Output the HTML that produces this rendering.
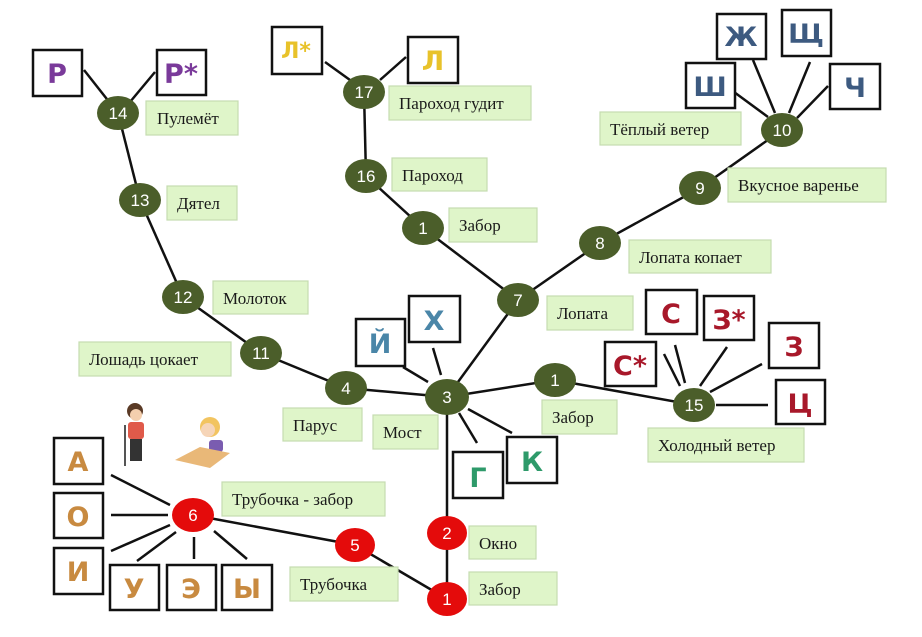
<!DOCTYPE html>
<html><head><meta charset="utf-8"><style>
html,body{margin:0;padding:0;background:#fff;}
svg{display:block}
.lb{fill:#dff5c9;stroke:#c5dcb0;stroke-width:1.2}
.lt{font-family:"Liberation Serif",serif;font-size:17px;fill:#1a1a1a}
.lx{fill:#fff;stroke:#111;stroke-width:2.5}
.L{font-family:"DejaVu Sans","Liberation Sans",sans-serif;font-size:27px;font-weight:bold;text-anchor:middle}
.n{fill:#4b5e2a}
.r{fill:#e40b0b}
.nt{font-family:"Liberation Sans",sans-serif;font-size:17px;fill:#fff;text-anchor:middle}
line{stroke:#111;stroke-width:2.5}
</style></head><body>
<svg width="922" height="637" viewBox="0 0 922 637">
<g>
<!-- main tree -->
<line x1="118" y1="113" x2="140" y2="200"/>
<line x1="140" y1="200" x2="183" y2="297"/>
<line x1="183" y1="297" x2="261" y2="353"/>
<line x1="261" y1="353" x2="346" y2="388"/>
<line x1="346" y1="388" x2="447" y2="397"/>
<line x1="447" y1="397" x2="518" y2="300"/>
<line x1="518" y1="300" x2="423" y2="228"/>
<line x1="423" y1="228" x2="366" y2="176"/>
<line x1="366" y1="176" x2="364" y2="92"/>
<line x1="518" y1="300" x2="600" y2="243"/>
<line x1="600" y1="243" x2="700" y2="188"/>
<line x1="700" y1="188" x2="782" y2="130"/>
<line x1="447" y1="397" x2="555" y2="380"/>
<line x1="555" y1="380" x2="694" y2="405"/>
<line x1="447" y1="397" x2="447" y2="533"/>
<line x1="447" y1="533" x2="447" y2="599"/>
<line x1="447" y1="599" x2="355" y2="545"/>
<line x1="355" y1="545" x2="193" y2="515"/>
<!-- letter spokes -->
<line x1="84" y1="70" x2="110" y2="103"/>
<line x1="155" y1="72" x2="130" y2="102"/>
<line x1="325" y1="62" x2="350" y2="80"/>
<line x1="406" y1="57" x2="380" y2="80"/>
<line x1="753" y1="60" x2="775" y2="113"/>
<line x1="810" y1="62" x2="789" y2="113"/>
<line x1="734" y1="92" x2="768" y2="117"/>
<line x1="828" y1="86" x2="797" y2="118"/>
<line x1="403" y1="367" x2="428" y2="382"/>
<line x1="433" y1="348" x2="441" y2="375"/>
<line x1="459" y1="413" x2="477" y2="443"/>
<line x1="468" y1="409" x2="512" y2="433"/>
<line x1="664" y1="354" x2="680" y2="386"/>
<line x1="675" y1="345" x2="685" y2="383"/>
<line x1="727" y1="347" x2="700" y2="386"/>
<line x1="762" y1="364" x2="710" y2="392"/>
<line x1="716" y1="405" x2="768" y2="405"/>
<line x1="111" y1="475" x2="170" y2="505"/>
<line x1="111" y1="515" x2="168" y2="515"/>
<line x1="111" y1="551" x2="170" y2="525"/>
<line x1="137" y1="561" x2="176" y2="532"/>
<line x1="194" y1="559" x2="194" y2="537"/>
<line x1="247" y1="559" x2="214" y2="531"/>
</g>
<!-- labels -->
<g>
<rect class="lb" x="146" y="101" width="92" height="34"/><text class="lt" x="157" y="124">Пулемёт</text>
<rect class="lb" x="167" y="186" width="70" height="34"/><text class="lt" x="177" y="209">Дятел</text>
<rect class="lb" x="213" y="281" width="95" height="33"/><text class="lt" x="223" y="304">Молоток</text>
<rect class="lb" x="79" y="342" width="152" height="34"/><text class="lt" x="89" y="365">Лошадь цокает</text>
<rect class="lb" x="283" y="408" width="79" height="33"/><text class="lt" x="293" y="431">Парус</text>
<rect class="lb" x="373" y="415" width="65" height="34"/><text class="lt" x="383" y="438">Мост</text>
<rect class="lb" x="389" y="86" width="142" height="34"/><text class="lt" x="399" y="109">Пароход гудит</text>
<rect class="lb" x="392" y="158" width="95" height="33"/><text class="lt" x="402" y="181">Пароход</text>
<rect class="lb" x="449" y="208" width="88" height="34"/><text class="lt" x="459" y="231">Забор</text>
<rect class="lb" x="547" y="296" width="86" height="34"/><text class="lt" x="557" y="319">Лопата</text>
<rect class="lb" x="629" y="240" width="142" height="33"/><text class="lt" x="639" y="263">Лопата копает</text>
<rect class="lb" x="728" y="168" width="158" height="34"/><text class="lt" x="738" y="191">Вкусное варенье</text>
<rect class="lb" x="600" y="112" width="141" height="33"/><text class="lt" x="610" y="135">Тёплый ветер</text>
<rect class="lb" x="542" y="400" width="75" height="34"/><text class="lt" x="552" y="423">Забор</text>
<rect class="lb" x="648" y="428" width="156" height="34"/><text class="lt" x="658" y="451">Холодный ветер</text>
<rect class="lb" x="222" y="482" width="163" height="34"/><text class="lt" x="232" y="505">Трубочка - забор</text>
<rect class="lb" x="290" y="567" width="108" height="34"/><text class="lt" x="300" y="590">Трубочка</text>
<rect class="lb" x="469" y="526" width="67" height="33"/><text class="lt" x="479" y="549">Окно</text>
<rect class="lb" x="469" y="572" width="88" height="33"/><text class="lt" x="479" y="595">Забор</text>
</g>
<!-- letter boxes -->
<g>
<rect class="lx" x="33" y="50" width="49" height="46"/><text class="L" x="57" y="83" fill="#7a3a9a">Р</text>
<rect class="lx" x="157" y="50" width="49" height="45"/><text class="L" x="181" y="83" fill="#7a3a9a">Р*</text>
<rect class="lx" x="272" y="27" width="50" height="47"/><text class="L" x="296" y="58" fill="#e8c22a" style="font-size:22px">Л*</text>
<rect class="lx" x="408" y="37" width="50" height="46"/><text class="L" x="433" y="70" fill="#e8c22a">Л</text>
<rect class="lx" x="717" y="14" width="49" height="45"/><text class="L" x="741" y="46" fill="#3d5a80">Ж</text>
<rect class="lx" x="782" y="10" width="49" height="46"/><text class="L" x="806" y="43" fill="#3d5a80">Щ</text>
<rect class="lx" x="686" y="63" width="49" height="45"/><text class="L" x="710" y="96" fill="#3d5a80">Ш</text>
<rect class="lx" x="830" y="64" width="50" height="45"/><text class="L" x="855" y="97" fill="#3d5a80">Ч</text>
<rect class="lx" x="356" y="319" width="49" height="47"/><text class="L" x="380" y="353" fill="#4a86a8">Й</text>
<rect class="lx" x="409" y="296" width="51" height="46"/><text class="L" x="434" y="330" fill="#4a86a8">Х</text>
<rect class="lx" x="453" y="452" width="50" height="46"/><text class="L" x="478" y="487" fill="#2e9a6a">Г</text>
<rect class="lx" x="507" y="437" width="50" height="46"/><text class="L" x="532" y="471" fill="#2e9a6a">К</text>
<rect class="lx" x="646" y="290" width="51" height="44"/><text class="L" x="671" y="323" fill="#a8182a">С</text>
<rect class="lx" x="704" y="296" width="50" height="44"/><text class="L" x="729" y="329" fill="#a8182a">З*</text>
<rect class="lx" x="605" y="342" width="51" height="44"/><text class="L" x="630" y="375" fill="#a8182a">С*</text>
<rect class="lx" x="769" y="323" width="50" height="45"/><text class="L" x="794" y="356" fill="#a8182a">З</text>
<rect class="lx" x="776" y="380" width="49" height="44"/><text class="L" x="800" y="413" fill="#a8182a">Ц</text>
<rect class="lx" x="54" y="438" width="49" height="46"/><text class="L" x="78" y="471" fill="#c88a40">А</text>
<rect class="lx" x="54" y="493" width="49" height="45"/><text class="L" x="78" y="526" fill="#c88a40">О</text>
<rect class="lx" x="54" y="548" width="49" height="46"/><text class="L" x="78" y="581" fill="#c88a40">И</text>
<rect class="lx" x="110" y="565" width="49" height="45"/><text class="L" x="134" y="598" fill="#c88a40">У</text>
<rect class="lx" x="167" y="565" width="49" height="45"/><text class="L" x="191" y="598" fill="#c88a40">Э</text>
<rect class="lx" x="222" y="565" width="50" height="45"/><text class="L" x="247" y="598" fill="#c88a40">Ы</text>
</g>
<!-- nodes -->
<g>
<ellipse class="n" cx="118" cy="113" rx="21" ry="17"/><text class="nt" x="118" y="119">14</text>
<ellipse class="n" cx="140" cy="200" rx="21" ry="17"/><text class="nt" x="140" y="206">13</text>
<ellipse class="n" cx="183" cy="297" rx="21" ry="17"/><text class="nt" x="183" y="303">12</text>
<ellipse class="n" cx="261" cy="353" rx="21" ry="17"/><text class="nt" x="261" y="359">11</text>
<ellipse class="n" cx="346" cy="388" rx="21" ry="17"/><text class="nt" x="346" y="394">4</text>
<ellipse class="n" cx="447" cy="397" rx="22" ry="18"/><text class="nt" x="447" y="403">3</text>
<ellipse class="n" cx="518" cy="300" rx="21" ry="17"/><text class="nt" x="518" y="306">7</text>
<ellipse class="n" cx="423" cy="228" rx="21" ry="17"/><text class="nt" x="423" y="234">1</text>
<ellipse class="n" cx="366" cy="176" rx="21" ry="17"/><text class="nt" x="366" y="182">16</text>
<ellipse class="n" cx="364" cy="92" rx="21" ry="17"/><text class="nt" x="364" y="98">17</text>
<ellipse class="n" cx="600" cy="243" rx="21" ry="17"/><text class="nt" x="600" y="249">8</text>
<ellipse class="n" cx="700" cy="188" rx="21" ry="17"/><text class="nt" x="700" y="194">9</text>
<ellipse class="n" cx="782" cy="130" rx="21" ry="17"/><text class="nt" x="782" y="136">10</text>
<ellipse class="n" cx="555" cy="380" rx="21" ry="17"/><text class="nt" x="555" y="386">1</text>
<ellipse class="n" cx="694" cy="405" rx="21" ry="17"/><text class="nt" x="694" y="411">15</text>
<ellipse class="r" cx="447" cy="533" rx="20" ry="17"/><text class="nt" x="447" y="539">2</text>
<ellipse class="r" cx="447" cy="599" rx="20" ry="17"/><text class="nt" x="447" y="605">1</text>
<ellipse class="r" cx="355" cy="545" rx="20" ry="17"/><text class="nt" x="355" y="551">5</text>
<ellipse class="r" cx="193" cy="515" rx="21" ry="17"/><text class="nt" x="193" y="521">6</text>
</g>
<!-- kids (simplified) -->
<g>
<circle cx="135" cy="411" r="8" fill="#5a3a26"/>
<circle cx="136" cy="415" r="6" fill="#f4cfae"/>
<rect x="128" y="422" width="16" height="17" rx="3" fill="#e05a4a"/>
<rect x="130" y="439" width="12" height="22" fill="#333"/>
<line x1="125" y1="425" x2="125" y2="466" style="stroke:#555;stroke-width:2"/>
<circle cx="210" cy="427" r="10" fill="#f2c460"/>
<circle cx="208" cy="430" r="7" fill="#f6d5b8"/>
<rect x="209" y="440" width="14" height="12" rx="3" fill="#7a5cb0"/>
<polygon points="175,460 200,447 230,453 210,468" fill="#e9b878"/>
</g>
</svg>
</body></html>
